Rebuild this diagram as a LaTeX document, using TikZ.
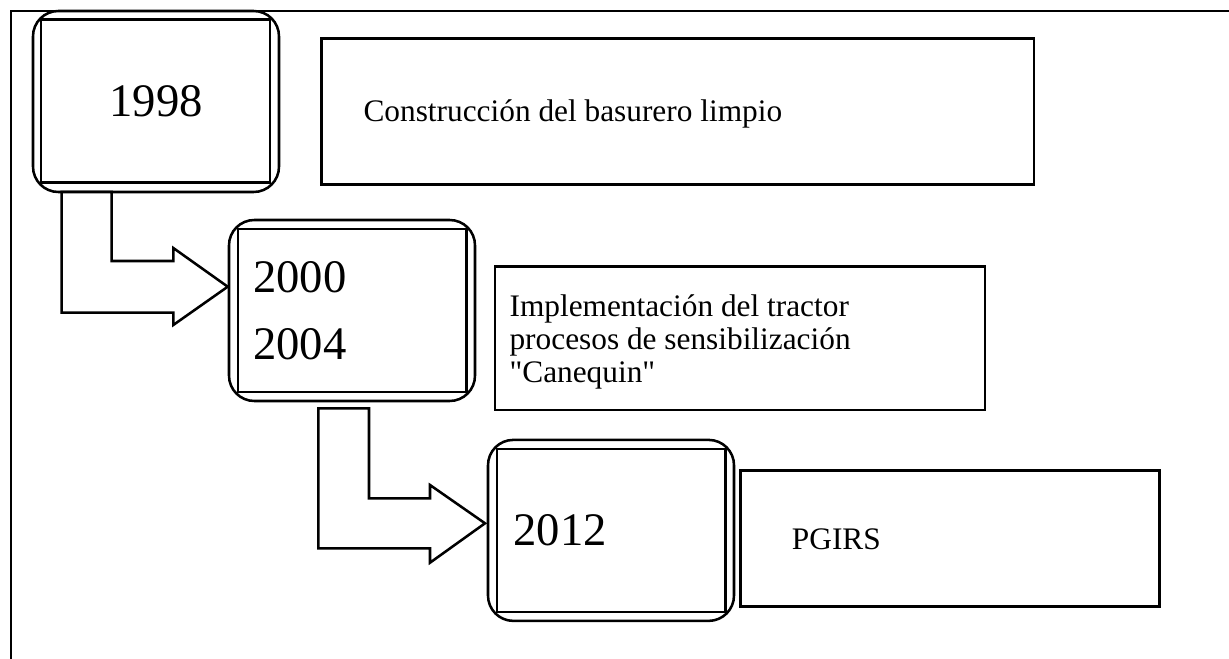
\documentclass[tikz,border=0pt]{standalone}
\usepackage{fontspec}
\setmainfont{Liberation Serif}[Ligatures=TeXOff]
\begin{document}
\begin{tikzpicture}[x=0.75pt,y=-0.75pt,
  ln/.style={line width=1.9pt,black},
  outerbox/.style={ln,draw,rectangle,rounded corners=19pt,minimum width=184.5pt,minimum height=135.75pt,inner sep=0pt},
  innerbox/.style={ln,draw,rectangle,minimum width=171.5pt,minimum height=122.25pt,inner sep=0pt},
  descbox/.style={ln,draw,rectangle,inner sep=0pt},
  yeartxt/.style={inner sep=0pt,font=\fontsize{35pt}{42pt}\selectfont},
  desctxt/.style={inner sep=0pt,anchor=base west,font=\fontsize{23.5pt}{25pt}\selectfont},
  blockarrow/.style={ln,draw,fill=white,line join=miter}]
\useasboundingbox (0,0) rectangle (1229,659);
\fill[white] (0,0) rectangle (1229,659);
% frame
\coordinate (fbl) at (11,659);
\coordinate (ftl) at (11,11);
\coordinate (ftr) at (1229,11);
\draw[ln] (fbl) -- (ftl) -- (ftr);

% year boxes
\node[outerbox] (y1) at (156,101.5) {};
\node[innerbox] (i1) at (155.5,101) {};
\node[outerbox] (y2) at (352,310.5) {};
\node[innerbox] (i2) at (352.3,310.4) {};
\node[outerbox] (y3) at (611,530.4) {};
\node[innerbox] (i3) at (611.4,530.5) {};

\node[yeartxt,anchor=base] (t1998) at (156,116.7) {1998};
\node[yeartxt,anchor=base west] (t2000) at (253,293) {2000};
\node[yeartxt,anchor=base west] (t2004) at (253,359.3) {2004};
\node[yeartxt,anchor=base west] (t2012) at (513.3,545.7) {2012};

% description boxes
\node[descbox,minimum width=534.2pt,minimum height=109.5pt] (d1) at (677.85,111.3) {};
\node[descbox,minimum width=367.5pt,minimum height=107.5pt] (d2) at (740,338.35) {};
\node[descbox,minimum width=314pt,minimum height=102pt] (d3) at (950,538.7) {};

\node[desctxt] (c1) at (363.3,121.7) {Construcción del basurero limpio};
\node[desctxt] (c2a) at (509.3,316.7) {Implementación del tractor};
\node[desctxt] (c2b) at (509.3,350) {procesos de sensibilización};
\node[desctxt] (c2c) at (509.3,382.7) {"Canequin"};
\node[desctxt] (c3) at (791.7,549.3) {PGIRS};

% bent block arrows
\coordinate (a1tip) at (y2.west |- 0,286.7);
\draw[blockarrow] (61.7,192) -- (61.7,312.7) -- (173.3,312.7) -- (173.3,325)
  -- (a1tip) -- (173.3,248) -- (173.3,261) -- (111.7,261) -- (111.7,192) -- cycle;
\coordinate (a2tip) at (485,523.3);
\draw[blockarrow] (318.3,408.3) -- (318.3,548.3) -- (430,548.3) -- (430,562.7)
  -- (a2tip) -- (430,485) -- (430,498.3) -- (369,498.3) -- (369,408.3) -- cycle;
\end{tikzpicture}
\end{document}
